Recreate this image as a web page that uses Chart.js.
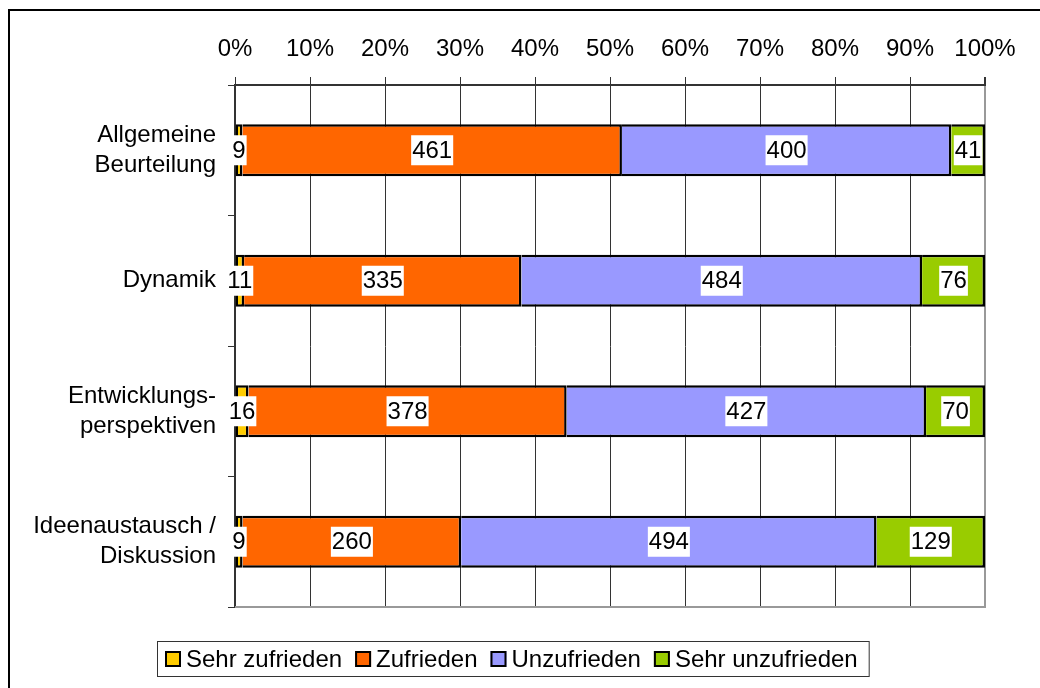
<!DOCTYPE html>
<html>
<head>
<meta charset="utf-8">
<style>
  html, body { margin: 0; padding: 0; background: #fff; }
  #wrap { width: 1040px; height: 688px; position: relative; }
</style>
<script src="https://cdn.jsdelivr.net/npm/chart.js@4.4.1/dist/chart.umd.min.js"></script>
</head>
<body>
<div id="wrap"><canvas id="c" width="1040" height="688"></canvas></div>
<script>
// ---- Data ----
const categories = [['Allgemeine', 'Beurteilung'], 'Dynamik', ['Entwicklungs-', 'perspektiven'], ['Ideenaustausch /', 'Diskussion']];
const seriesNames = ['Sehr zufrieden', 'Zufrieden', 'Unzufrieden', 'Sehr unzufrieden'];
const sehrZufrieden = [9, 11, 16, 9];
const zufrieden = [461, 335, 378, 260];
const unzufrieden = [400, 484, 427, 494];
const sehrUnzufrieden = [41, 76, 70, 129];
const seriesColors = ['#FFCC00', '#FF6600', '#9999FF', '#99CC00'];
const xTickValues = [0, 10, 20, 30, 40, 50, 60, 70, 80, 90, 100];
const xTickLabels = ['0%', '10%', '20%', '30%', '40%', '50%', '60%', '70%', '80%', '90%', '100%'];

const FONT = "'Liberation Sans', Arial, sans-serif";
const FS = 24;

const rawSeries = [sehrZufrieden, zufrieden, unzufrieden, sehrUnzufrieden];
const totals = categories.map((_, i) => rawSeries.reduce((s, arr) => s + arr[i], 0));

const datasets = rawSeries.map((arr, k) => ({
  label: seriesNames[k],
  data: arr.map((v, i) => v / totals[i] * 100),
  raw: arr,
  backgroundColor: seriesColors[k],
  borderColor: '#000',
  borderWidth: 2.5,
  borderSkipped: k === 0 ? false : 'start',
  barPercentage: 0.4,
  categoryPercentage: 1.0
}));

const framePlugin = {
  id: 'frame',
  beforeDraw(chart) {
    const ctx = chart.ctx;
    ctx.save();
    ctx.fillStyle = '#fff';
    ctx.fillRect(0, 0, chart.width, chart.height);
    ctx.strokeStyle = '#000';
    ctx.lineWidth = 2;
    ctx.strokeRect(9, 10, 2000, 2000);
    ctx.restore();
  },
  afterDraw(chart) {
    const ctx = chart.ctx;
    const a = chart.chartArea;
    ctx.save();
    // bottom edge of plot area
    ctx.strokeStyle = '#999';
    ctx.lineWidth = 2;
    ctx.beginPath();
    ctx.moveTo(a.left, a.bottom);
    ctx.lineTo(a.right + 1, a.bottom);
    ctx.stroke();

    // legend
    ctx.font = FS + 'px ' + FONT;
    ctx.textBaseline = 'middle';
    ctx.textAlign = 'left';
    let x = 165;
    const sqY = 651, sq = 16, ty = 660;
    chart.data.datasets.forEach((ds, k) => {
      ctx.fillStyle = ds.backgroundColor;
      ctx.fillRect(x, sqY, sq, sq);
      ctx.strokeStyle = '#000';
      ctx.lineWidth = 2;
      ctx.strokeRect(x + 1, sqY + 1, sq - 2, sq - 2);
      ctx.fillStyle = '#000';
      ctx.fillText(ds.label, x + 21, ty);
      const w = ctx.measureText(ds.label).width;
      x = x + 21 + w + 13;
    });
    const right = x - 13 + 11;
    ctx.strokeStyle = '#333';
    ctx.lineWidth = 1;
    ctx.strokeRect(157.5, 641.5, right - 157, 35);
    ctx.restore();
  },
  afterDatasetsDraw(chart) {
    const ctx = chart.ctx;
    ctx.save();
    ctx.font = FS + 'px ' + FONT;
    ctx.textBaseline = 'middle';
    ctx.textAlign = 'center';
    chart.data.datasets.forEach((ds, k) => {
      const meta = chart.getDatasetMeta(k);
      meta.data.forEach((bar, i) => {
        const txt = String(ds.raw[i]);
        const cx = (bar.x + bar.base) / 2;
        const cy = bar.y;
        const w = ctx.measureText(txt).width + 2;
        ctx.fillStyle = '#fff';
        ctx.fillRect(cx - w / 2, cy - 15, w, 30);
        ctx.fillStyle = '#000';
        ctx.fillText(txt, cx, cy + 1);
      });
    });
    ctx.restore();
  }
};

new Chart(document.getElementById('c'), {
  type: 'bar',
  data: { labels: categories, datasets },
  options: {
    indexAxis: 'y',
    responsive: false,
    animation: false,
    events: [],
    layout: { padding: { left: 0, top: 0, right: 55, bottom: 81 } },
    plugins: {
      legend: { display: false },
      tooltip: { enabled: false },
      title: { display: false }
    },
    scales: {
      x: {
        position: 'top',
        stacked: true,
        min: 0,
        max: 100,
        afterBuildTicks(axis) { axis.ticks = xTickValues.map(v => ({ value: v })); },
        afterFit(axis) { axis.height = 85; },
        ticks: {
          color: '#000',
          font: { family: FONT, size: FS, lineHeight: 1.2 },
          padding: 13,
          maxRotation: 0,
          autoSkip: false,
          callback: (v) => xTickLabels[xTickValues.indexOf(v)]
        },
        grid: {
          color: (c) => (c.tick && c.tick.value === 100) ? '#999' : '#333',
          lineWidth: (c) => (c.tick && c.tick.value === 100) ? 2 : 1,
          tickColor: '#333',
          tickLength: 8
        },
        border: { color: '#333', width: 2 }
      },
      y: {
        stacked: true,
        afterFit(axis) { axis.width = 235; },
        ticks: {
          color: '#000',
          font: { family: FONT, size: FS, lineHeight: 30 / FS },
          padding: 12
        },
        grid: {
          offset: true,
          drawOnChartArea: false,
          color: '#333',
          tickLength: 7
        },
        border: { color: '#333', width: 2 }
      }
    }
  },
  plugins: [framePlugin]
});
</script>
</body>
</html>
